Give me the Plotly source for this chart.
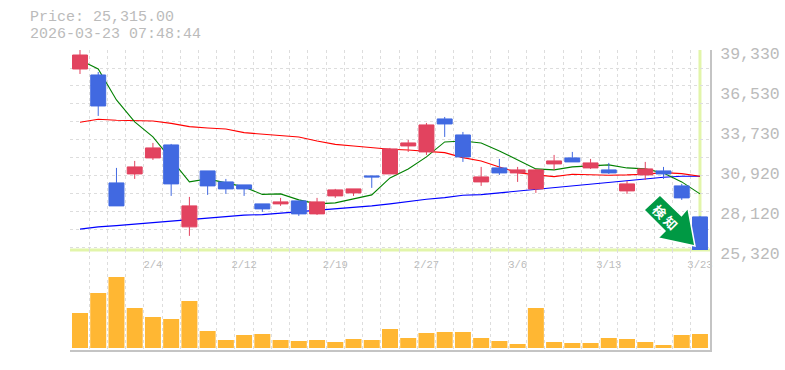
import plotly.graph_objects as go

dates = ["1/29","1/30","2/2","2/3","2/4","2/5","2/6","2/9","2/10","2/12","2/13","2/16","2/17","2/18","2/19","2/20","2/24","2/25","2/26","2/27","3/2","3/3","3/4","3/5","3/6","3/9","3/10","3/11","3/12","3/13","3/16","3/17","3/18","3/19","3/23"]
opens = [38000,37580,30020,30650,31770,32680,26940,30860,30090,29880,28550,28550,28760,27850,29110,29320,30510,30650,32610,32190,34500,33380,30090,31070,30720,29600,31350,31770,31070,30930,29460,30580,30860,29810,27640]
closes = [38980,35410,28410,31140,32470,29950,28410,29810,29600,29600,28200,28690,27850,28690,29530,29600,30440,32400,32820,34080,34150,31840,30440,30720,30930,30930,31560,31490,31420,30720,29950,31000,30650,28970,25315]
highs = [39330,37790,31070,31560,32820,32750,29040,30860,30300,29880,28550,28970,28760,28970,29600,29600,30510,32470,33030,34220,34640,33590,31140,31700,31140,31000,31980,32190,31700,31420,30160,31490,31140,29950,27710]
lows = [37650,34710,28410,30300,31630,29110,26310,29180,29250,29110,27990,28410,27710,27780,28970,29110,29670,30650,32190,31980,33240,31490,29810,30580,30090,29320,30930,31490,31000,30650,29250,30230,30300,28830,25315]
ma_short = [38630,38000,35830,34290,33240,31630,30090,30300,30020,29740,29215,29250,28830,28550,28620,28900,29180,30370,31000,31840,32890,32960,32820,32260,31630,31000,30930,31140,31210,31280,31070,31000,30720,30090,29250]
ma_mid = [34270,34480,34410,34360,34360,34190,33960,33870,33800,33540,33450,33380,33240,32960,32720,32610,32470,32380,32330,32210,32140,31790,31560,31140,30740,30580,30460,30630,30580,30560,30580,30630,30740,30670,30490]
ma_long = [26780,26940,27030,27130,27270,27380,27480,27570,27640,27760,27800,27900,27970,28060,28180,28290,28410,28550,28740,28880,28990,29160,29200,29320,29460,29580,29690,29810,29950,30070,30180,30320,30420,30490,30490]
volumes = [35,55,71,40,31,29,47,17,8,13,14,8,7,8,6,9,8,19,10,15,16,16,10,7,4,40,6,5,5,10,9,6,3,13,14]
price_ticks = [39330,36530,33730,30920,28120,25320]
date_tick_labels = ["2/4","2/12","2/19","2/27","3/6","3/13","3/23"]
price_label = "Price: 25,315.00"
time_label = "2026-03-23 07:48:44"
signal_label = "<b>検 知</b>"

GRID = "#dddddd"
TEXT = "#bbbbbb"
AXIS = "#c4c4c4"
LIME = "#e2f5aa"
MONO = "Liberation Mono"
RED = "#e2435f"
BLUE = "#4169e1"
xs = list(range(len(dates)))
xrange = [-0.548, 34.55]
yrange = [25320, 39330]
grid_dash = "3px,3px"

fig = go.Figure()
for vals, col in [(ma_long, "#0000ff"), (ma_mid, "#ff0000"), (ma_short, "#008000")]:
    fig.add_trace(go.Scatter(x=xs, y=vals, mode="lines", line=dict(color=col, width=1.1), xaxis="x", yaxis="y", showlegend=False))
fig.add_trace(go.Bar(x=xs, y=volumes, width=0.877, marker=dict(color="#ffb733", line=dict(width=0)), xaxis="x2", yaxis="y2", showlegend=False))
fig.add_trace(go.Candlestick(x=xs, open=opens, high=highs, low=lows, close=closes,
    increasing=dict(line=dict(color=RED, width=1), fillcolor=RED),
    decreasing=dict(line=dict(color=BLUE, width=1), fillcolor=BLUE),
    whiskerwidth=0, xaxis="x3", yaxis="y3", showlegend=False))

def minor_x():
    return dict(showgrid=True, gridcolor=GRID, griddash=grid_dash, gridwidth=1, tick0=-0.5, dtick=1, ticks="")

fig.update_layout(
    width=785, height=370, autosize=False,
    margin=dict(l=70, r=75, t=50, b=20, pad=0, autoexpand=False),
    paper_bgcolor="white", plot_bgcolor="rgba(0,0,0,0)", showlegend=False, boxgap=0.18, boxgroupgap=0,
    xaxis=dict(domain=[0, 1], range=xrange, anchor="y", showgrid=False, zeroline=False, showline=False,
               tickmode="array", tickvals=[dates.index(d) for d in date_tick_labels], ticktext=date_tick_labels,
               tickfont=dict(family=MONO, size=10.5, color=TEXT), ticks="", minor=minor_x(), ticklabelstandoff=6),
    xaxis2=dict(domain=[0, 1], range=xrange, anchor="y2", showgrid=False, zeroline=False, showticklabels=False,
                showline=True, linecolor=AXIS, linewidth=2, ticks="", minor=minor_x()),
    xaxis3=dict(range=xrange, overlaying="x", anchor="y3", visible=False, rangeslider=dict(visible=False)),
    yaxis=dict(domain=[1/3, 1], range=yrange, anchor="x", side="right", showgrid=False, zeroline=False,
               showline=True, linecolor=AXIS, linewidth=2,
               tickmode="array", tickvals=price_ticks, ticktext=[f"{v:,}" for v in price_ticks],
               tickfont=dict(family=MONO, size=16.5, color=TEXT), ticks="", ticklabelstandoff=5, ticklabelshift=3,
               minor=dict(showgrid=True, gridcolor=GRID, griddash=grid_dash, gridwidth=1, tick0=39329, dtick=1260, ticks="")),
    yaxis2=dict(domain=[0, 1/3], range=[-2, 98], anchor="x2", side="right", showgrid=False, zeroline=False,
                showticklabels=False, showline=True, linecolor=AXIS, linewidth=2, ticks=""),
    yaxis3=dict(range=yrange, overlaying="y", anchor="x3", visible=False),
    shapes=[
        dict(type="line", xref="x", yref="y domain", x0=xs[-1], x1=xs[-1], y0=0, y1=1, line=dict(color=LIME, width=3), layer="below"),
        dict(type="line", xref="paper", yref="paper", x0=0, x1=1, y0=1/3, y1=1/3, line=dict(color=LIME, width=3), layer="below"),
        dict(type="path", xref="x", yref="y", xsizemode="pixel", ysizemode="pixel", xanchor=xs[-1], yanchor=closes[-1],
             path="M -40 55 L -56 40 L -35 19 L -42 12 L -5 4 L -12 42 L -18.5 34.5 Z",
             fillcolor="#009944", line=dict(color="white", width=1.5), layer="above"),
    ],
    annotations=[
        dict(text=price_label, xref="paper", yref="paper", x=-42/640, y=1+32/300, xanchor="left", yanchor="middle", showarrow=False,
             font=dict(family=MONO, size=15, color=TEXT)),
        dict(text=time_label, xref="paper", yref="paper", x=-42/640, y=1+15/300, xanchor="left", yanchor="middle", showarrow=False,
             font=dict(family=MONO, size=15, color=TEXT)),
        dict(text=signal_label, xref="x", yref="y", x=xs[-1], y=yrange[0], xshift=-34, yshift=33,
             showarrow=False, textangle=45,
             font=dict(family="Noto Sans CJK JP", size=13, color="white")),
    ],
)
fig.write_html("out.html", config=dict(displayModeBar=False), post_script="document.body.style.margin='0';")
